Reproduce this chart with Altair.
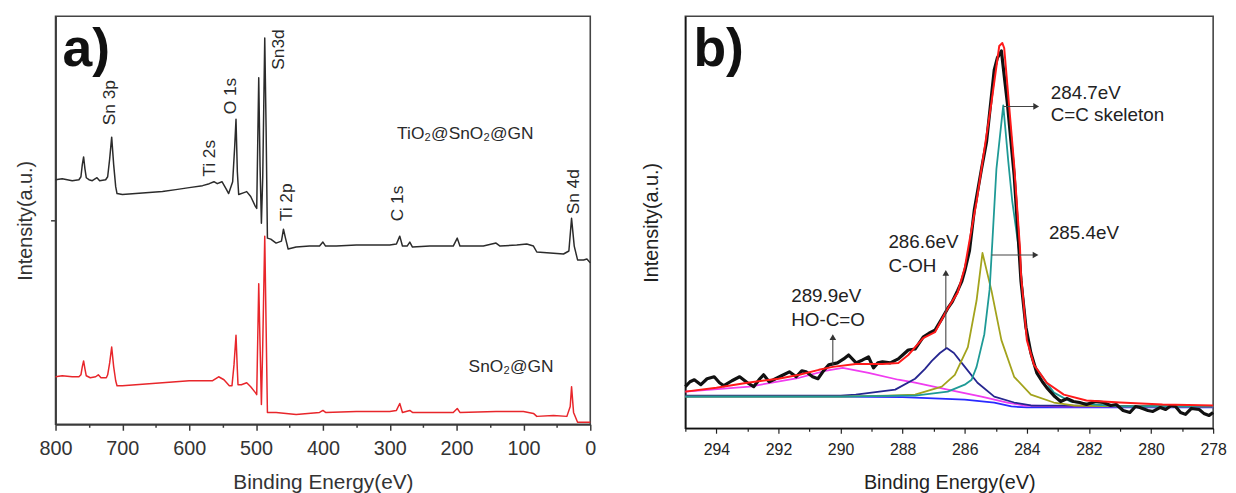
import altair as alt
import pandas as pd

FONT = "Liberation Sans"

# ---------------- panel a : XPS survey spectra ----------------
a_black_ev = [800, 790, 775, 765, 762, 760, 758, 756, 754, 750, 745, 738, 734, 725, 722, 719, 716, 713, 710, 708,
              700, 680, 660, 640, 620, 600, 580, 570, 563, 558, 551, 545, 541, 535, 532, 530, 528, 526, 518, 514,
              508, 501, 499, 496, 494, 492, 490, 487, 485, 483, 478, 470, 462, 459, 456, 452, 440, 420, 405, 400,
              396, 380, 350, 300, 290, 285, 281, 274, 270, 266, 240, 205, 199, 195, 160, 141, 135, 110, 95, 85,
              80, 60, 40, 32, 28, 24, 19, 10, 5, 0]
a_black_val = [247, 248, 246, 247, 250, 262, 270, 258, 249, 247, 246, 249, 246, 247, 250, 268, 290, 262, 240, 233,
               232, 233, 234, 235, 237, 239, 241, 243, 245, 243, 245, 238, 233, 245, 280, 308, 255, 232, 234, 235,
               230, 220, 218, 350, 260, 203, 250, 390, 300, 188, 187, 183, 185, 197, 188, 177, 179, 180, 180, 184,
               180, 180, 181, 181, 182, 190, 180, 180, 184, 179, 180, 180, 188, 180, 180, 183, 180, 181, 182, 180,
               174, 173, 172, 175, 208, 180, 166, 166, 167, 163]

a_red_ev = [800, 790, 775, 765, 762, 760, 758, 756, 754, 748, 740, 736, 732, 724, 722, 719, 716, 713, 710, 708,
            700, 680, 660, 640, 620, 600, 580, 565, 556, 548, 540, 536, 533, 530, 528, 527, 522, 514, 508, 501,
            499, 496, 494, 492, 490, 487, 485, 483, 470, 440, 405, 400, 396, 350, 300, 290, 285, 281, 270, 266,
            240, 205, 199, 195, 141, 100, 85, 80, 55, 35, 30, 28, 25, 19, 0]
a_red_val = [48, 49, 48, 48, 50, 58, 64, 56, 49, 47, 48, 50, 47, 47, 50, 62, 78, 58, 44, 39,
             39, 40, 41, 42, 43, 44, 44, 44, 48, 45, 39, 39, 60, 90, 55, 40, 40, 42, 38, 32,
             30, 142, 80, 20, 80, 190, 100, 12, 12, 10, 12, 14, 12, 13, 13, 14, 21, 12, 14, 12,
             12, 12, 16, 12, 13, 13, 11, 8, 9, 8, 18, 38, 12, 2, 2]

a_peak_names = ["Sn 3p", "Ti 2s", "O 1s", "Sn3d", "Ti 2p", "C 1s", "Sn 4d"]
a_sample_names = ["TiO\u2082@SnO\u2082@GN", "SnO\u2082@GN"]

# ---------------- panel b : C 1s high resolution ----------------
b_data_ev = [295, 294.85, 294.71, 294.5, 294.3, 294.07, 293.9, 293.76, 293.5, 293.25, 293.0, 292.8, 292.6, 292.48,
             292.3, 292.16, 291.9, 291.65, 291.43, 291.25, 291.11, 290.9, 290.73, 290.55, 290.38, 290.1, 289.9,
             289.74, 289.5, 289.29, 289.1, 288.94, 288.8, 288.65, 288.4, 288.14, 288.0, 287.82, 287.6, 287.34,
             287.15, 286.96, 286.75, 286.55, 286.4, 286.23, 286.1, 286.0, 285.85, 285.69, 285.46, 285.3, 285.05,
             284.95, 284.82, 284.63, 284.41, 284.25, 284.19, 284.03, 283.87, 283.68, 283.5, 283.36, 283.1, 282.91,
             282.7, 282.5, 282.3, 282.08, 281.8, 281.54, 281.3, 281.12, 280.9, 280.68, 280.5, 280.36, 280.1,
             279.94, 279.7, 279.53, 279.35, 279.21, 279.05, 278.89, 278.7, 278.45, 278.3, 278.13, 278.0]
b_data_val = [42, 47, 49, 44, 50, 52, 46, 43, 48, 52, 46, 42, 50, 54,
              47, 49, 53, 57, 52, 58, 57, 52, 50, 58, 64, 66, 70,
              74, 66, 69, 72, 61, 66, 67, 66, 70, 74, 79, 80, 92,
              96, 99, 110, 121, 128, 139, 148, 159, 179, 221, 262, 289, 362,
              374, 381, 329, 256, 179, 149, 102, 76, 56, 47, 41, 32, 27,
              30, 27, 26, 24, 27, 26, 23, 24, 18, 16, 22, 21, 18,
              17, 21, 19, 23, 22, 16, 14, 20, 19, 15, 13, 16]

b_fit_ev = [295, 294, 293, 292, 291.33, 290.7, 290.25, 289.51, 288.65, 288.14, 287.82, 287.34, 286.96, 286.55,
            286.23, 286.0, 285.85, 285.62, 285.14, 284.89, 284.79, 284.73, 284.41, 284.22, 284.19, 284.0, 283.77,
            283.36, 282.81, 282.08, 281.0, 279.63, 278]
b_fit_val = [37, 41, 46, 50, 54, 59, 62, 65, 65, 66, 74, 91, 97, 121,
             137, 162, 189, 229, 329, 386, 389, 384, 266, 181, 156, 89, 64,
             46, 34, 28, 26, 24, 23]

b_cc_ev = [295, 290, 288, 287.6, 286.55, 286.0, 285.78, 285.62, 285.37, 285.2, 285.11, 284.98, 284.76, 284.6,
           284.47, 284.25, 284.19, 284.0, 283.77, 283.36, 283.13, 282.6, 281.8, 281.0, 278]
b_cc_val = [32, 32, 33, 33, 37, 44, 49, 62, 95, 140, 189, 262, 326, 270,
            229, 179, 156, 92, 64, 46, 36, 27, 24, 22, 22]

b_c2_ev = [295, 290, 288.5, 287.6, 286.74, 286.32, 285.9, 285.62, 285.43, 285.14, 284.82, 284.41, 283.87, 283.13,
           282.5, 281, 278]
b_c2_val = [32, 32, 33, 34, 42, 54, 82, 129, 177, 139, 89, 52, 34, 26, 23, 22, 22]

b_coh_ev = [295, 290, 289.51, 288.24, 287.6, 287.28, 287.06, 286.8, 286.58, 286.35, 286.1, 285.59, 285.05, 284.41,
            283.87, 278]
b_coh_val = [33, 33, 34, 39, 50, 60, 68, 76, 81, 76, 66, 46, 32, 26, 23, 22]

b_cooh_ev = [295, 292.93, 291.33, 290.5, 289.93, 289.1, 288.14, 287.6, 287.0, 286.55, 285.46, 284.63, 284.1, 283, 278]
b_cooh_val = [37, 42, 51, 58, 61, 56, 49, 46, 42, 39, 32, 26, 23, 22, 22]

b_bg_ev = [295, 290, 288, 287.6, 286, 285.05, 284.5, 284, 278]
b_bg_val = [32, 32, 31.5, 31, 29, 26, 22, 21, 21]

b_label_lines = [["284.7eV", "C=C skeleton"], ["285.4eV"], ["286.6eV", "C-OH"], ["289.9eV", "HO-C=O"]]

# ---------------- annotation placement (kept apart from data) ----------------
a_peak_pos = [(718.5, 302), (569, 250), (538, 313), (465, 358), (453, 205), (287, 205), (25, 212)]
a_sample_pos = [(289, 293), (182, 58)]
b_label_pos = [[(283.23, 339), (283.23, 316)], [(283.29, 197)], [(288.46, 188), (288.46, 164)],
               [(291.59, 134), (291.59, 109)]]
b_hlines = [(284.75, 283.70, 325), (285.14, 283.72, 175)]
b_vlines = [(286.61, 81, 157), (290.25, 64, 92)]

A_W, A_H = 540, 412
B_W, B_H = 533, 416

xs_a = alt.Scale(domain=[0, 800], reverse=True, nice=False, zero=False)
ys_a = alt.Scale(domain=[0, A_H], nice=False, zero=False)
xs_b = alt.Scale(domain=[278, 295], reverse=True, nice=False, zero=False)
ys_b = alt.Scale(domain=[0, B_H], nice=False, zero=False)

AX_COL = "#3a3a3a"

xaxis_a = alt.Axis(values=list(range(0, 801, 50)),
                   labelExpr="datum.value % 100 === 0 ? datum.label : ''",
                   tickSize={"condition": {"test": "datum.value % 100 === 0", "value": 6}, "value": 3},
                   title="Binding Energy(eV)", labelFontSize=20, titleFontSize=21, labelFont=FONT, titleFont=FONT,
                   titleFontWeight="normal", labelColor="#333", titleColor="#333", domainColor=AX_COL,
                   domainWidth=1.8, tickColor=AX_COL, tickWidth=1.5, labelPadding=9, titlePadding=13, grid=False,
                   labelFlush=False, labelOverlap=False)
yaxis_a = alt.Axis(values=[206], labels=False, tickSize=5, tickColor=AX_COL, tickWidth=1.5,
                   title="Intensity(a.u.)", titleFontSize=20, titleFont=FONT, titleFontWeight="normal",
                   titleColor="#333", domainColor=AX_COL, domainWidth=1.8, titlePadding=15, grid=False)

xaxis_b = alt.Axis(values=list(range(278, 296)),
                   labelExpr="datum.value % 2 === 0 ? datum.label : ''",
                   tickSize={"condition": {"test": "datum.value % 2 === 0", "value": 5}, "value": 3},
                   title="Binding Energy(eV)", labelFontSize=16, titleFontSize=20, labelFont=FONT, titleFont=FONT,
                   titleFontWeight="normal", labelColor="#222", titleColor="#222", domainColor="#111",
                   domainWidth=1.5, tickColor="#222", tickWidth=1.2, labelPadding=9, titlePadding=15, grid=False,
                   labelFlush=False, labelOverlap=False)
yaxis_b = alt.Axis(ticks=False, labels=False, title="Intensity(a.u.)", titleFontSize=20, titleFont=FONT,
                   titleFontWeight="normal", titleColor="#222", domainColor="#111", domainWidth=1.5,
                   titlePadding=24, grid=False)

AXES = {"a": (xs_a, ys_a, xaxis_a, yaxis_a), "b": (xs_b, ys_b, xaxis_b, yaxis_b)}


def line(ev, val, color, width, panel):
    xs, ys, xa, ya = AXES[panel]
    df = pd.DataFrame({"ev": ev, "val": val})
    return alt.Chart(df).mark_line(color=color, strokeWidth=width, strokeJoin="round").encode(
        x=alt.X("ev:Q", scale=xs, axis=xa),
        y=alt.Y("val:Q", scale=ys, axis=ya),
    )


def texts(rows, panel, size, angle=0, align="left", baseline="middle", weight="normal", color="#222"):
    xs, ys, xa, ya = AXES[panel]
    df = pd.DataFrame(rows, columns=["ev", "val", "label"])
    return alt.Chart(df).mark_text(font=FONT, fontSize=size, angle=angle, align=align, baseline=baseline,
                                   fontWeight=weight, color=color).encode(
        x=alt.X("ev:Q", scale=xs, axis=xa),
        y=alt.Y("val:Q", scale=ys, axis=ya),
        text="label:N",
    )


# ----- panel a -----
a_red = line(a_red_ev, a_red_val, "#e8262b", 1.5, "a")
a_black = line(a_black_ev, a_black_val, "#2b2b2b", 1.5, "a")
a_peaks = texts([(p[0], p[1], n) for p, n in zip(a_peak_pos, a_peak_names)], "a", 17.5,
                angle=270, align="left", color="#2a2a2a")
a_samples = texts([(p[0], p[1], n) for p, n in zip(a_sample_pos, a_sample_names)], "a", 17.5, color="#2a2a2a")
a_tag = texts([(789.6, 362, "a)")], "a", 54, baseline="alphabetic", weight="bold", color="#111")

panel_a = alt.layer(a_red, a_black, a_peaks, a_samples, a_tag).properties(width=A_W, height=A_H)

# ----- panel b -----
b_layers = [
    line(b_bg_ev, b_bg_val, "#2a2aff", 1.8, "b"),
    line(b_cooh_ev, b_cooh_val, "#f03cf0", 1.8, "b"),
    line(b_coh_ev, b_coh_val, "#262690", 1.8, "b"),
    line(b_c2_ev, b_c2_val, "#a3a31c", 1.8, "b"),
    line(b_cc_ev, b_cc_val, "#1e9a96", 1.8, "b"),
    line(b_data_ev, b_data_val, "#111111", 3.2, "b"),
    line(b_fit_ev, b_fit_val, "#ff1a1a", 2.0, "b"),
]

hl = pd.DataFrame(b_hlines, columns=["ev", "x2", "val"])
vl = pd.DataFrame(b_vlines, columns=["ev", "val", "y2"])
b_hrules = alt.Chart(hl).mark_rule(color="#444", strokeWidth=1.1).encode(
    x=alt.X("ev:Q", scale=xs_b, axis=xaxis_b), x2="x2:Q", y=alt.Y("val:Q", scale=ys_b, axis=yaxis_b))
b_vrules = alt.Chart(vl).mark_rule(color="#444", strokeWidth=1.1).encode(
    x=alt.X("ev:Q", scale=xs_b, axis=xaxis_b), y=alt.Y("val:Q", scale=ys_b, axis=yaxis_b), y2="y2:Q")
hh = pd.DataFrame({"ev": [r[1] for r in b_hlines], "val": [r[2] for r in b_hlines]})
vh = pd.DataFrame({"ev": [r[0] for r in b_vlines], "val": [r[2] for r in b_vlines]})
b_hheads = alt.Chart(hh).mark_point(shape="triangle-right", filled=True, size=45, color="#333", opacity=1).encode(
    x=alt.X("ev:Q", scale=xs_b, axis=xaxis_b), y=alt.Y("val:Q", scale=ys_b, axis=yaxis_b))
b_vheads = alt.Chart(vh).mark_point(shape="triangle-up", filled=True, size=45, color="#333", opacity=1).encode(
    x=alt.X("ev:Q", scale=xs_b, axis=xaxis_b), y=alt.Y("val:Q", scale=ys_b, axis=yaxis_b))

b_rows = []
for lines_, poss in zip(b_label_lines, b_label_pos):
    for t, p in zip(lines_, poss):
        b_rows.append((p[0], p[1], t))
b_text = texts(b_rows, "b", 19, color="#222")
b_tag = texts([(294.74, 366, "b)")], "b", 54, baseline="alphabetic", weight="bold", color="#111")

panel_b = alt.layer(*b_layers, b_hrules, b_vrules, b_hheads, b_vheads, b_text, b_tag).properties(
    width=B_W, height=B_H)

chart = alt.hconcat(panel_a, panel_b, spacing=44).properties(
    padding={"left": 6, "top": 5, "right": 0, "bottom": 0},
    background="white",
).configure_view(stroke="#444", strokeWidth=1.6)

chart.save("out.html", embed_options={"renderer": "svg", "actions": False})
